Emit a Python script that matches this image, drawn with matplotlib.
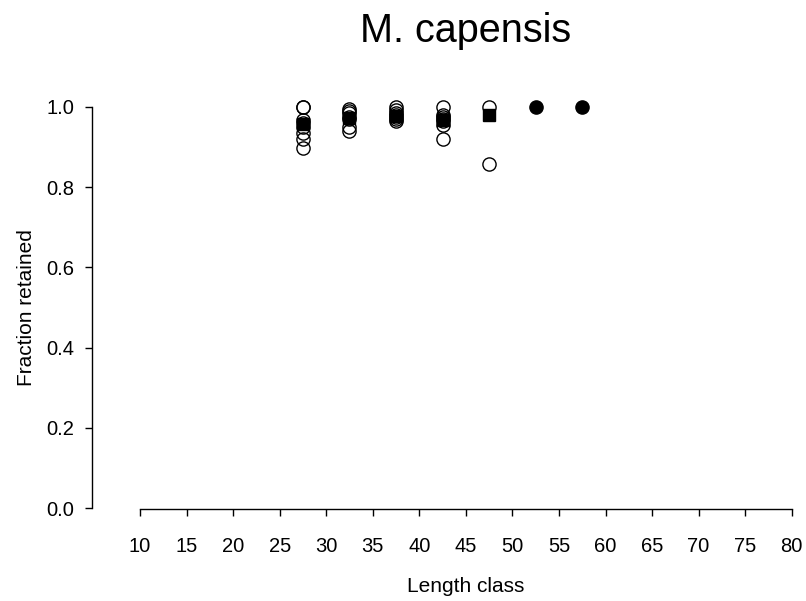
import matplotlib
matplotlib.use('Agg')
from matplotlib import pyplot as plt

plt.rcParams['font.family'] = ['Liberation Sans', 'DejaVu Sans']

# individual hauls (open circles)
length_classes = [27.5, 32.5, 37.5, 42.5, 47.5]
retained = [
    [1.0, 1.0, 0.968, 0.96, 0.95, 0.935, 0.92, 0.897],
    [0.995, 0.99, 0.985, 0.975, 0.97, 0.95, 0.94],
    [1.0, 0.993, 0.985, 0.98, 0.975, 0.97, 0.965],
    [1.0, 0.98, 0.975, 0.97, 0.965, 0.955, 0.92],
    [1.0, 0.859],
]
# overall estimate per class (filled squares)
mean_retained = [0.958, 0.973, 0.978, 0.968, 0.98]
# classes where everything was retained (filled circles)
full_classes = [52.5, 57.5]
full_retained = [1.0, 1.0]

xticks = list(range(10, 81, 5))
yticks = [0.0, 0.2, 0.4, 0.6, 0.8, 1.0]

fig = plt.figure(figsize=(8.06, 6.01), dpi=100)
ax = fig.add_axes([92 / 806, 81 / 601, 708 / 806, 425 / 601])

for x, vals in zip(length_classes, retained):
    ax.plot([x] * len(vals), vals, 'o', mfc='none', mec='black', ms=9.5, mew=1.0)
ax.plot(length_classes, mean_retained, 's', color='black', ms=8)
ax.plot(full_classes, full_retained, 'o', color='black', ms=9.5)

ax.set_xlim(4.844, 80.89)
ax.set_ylim(-0.0299, 1.0299)

for s in ['top', 'right']:
    ax.spines[s].set_visible(False)
ax.spines['left'].set_bounds(0, 1)
ax.spines['bottom'].set_position(('data', -0.002))
ax.spines['bottom'].set_bounds(10, 80)
ax.spines['left'].set_linewidth(1.0)
ax.spines['bottom'].set_linewidth(1.0)

ax.set_xticks(xticks)
ax.set_yticks(yticks)
ax.set_yticklabels(['%.1f' % v for v in yticks])
ax.tick_params(axis='both', direction='out', length=5, width=1.0, labelsize=14.5)
ax.tick_params(axis='y', pad=8)
ax.tick_params(axis='x', pad=15)

ax.set_title('M. capensis', fontsize=28.5, pad=38.5, x=(466 - 92) / 708)
ax.set_xlabel('Length class', fontsize=15)
ax.xaxis.set_label_coords((466 - 92) / 708, -0.135)
ax.set_ylabel('Fraction retained', fontsize=15, labelpad=7.5)

fig.savefig('out.png', dpi=100)
